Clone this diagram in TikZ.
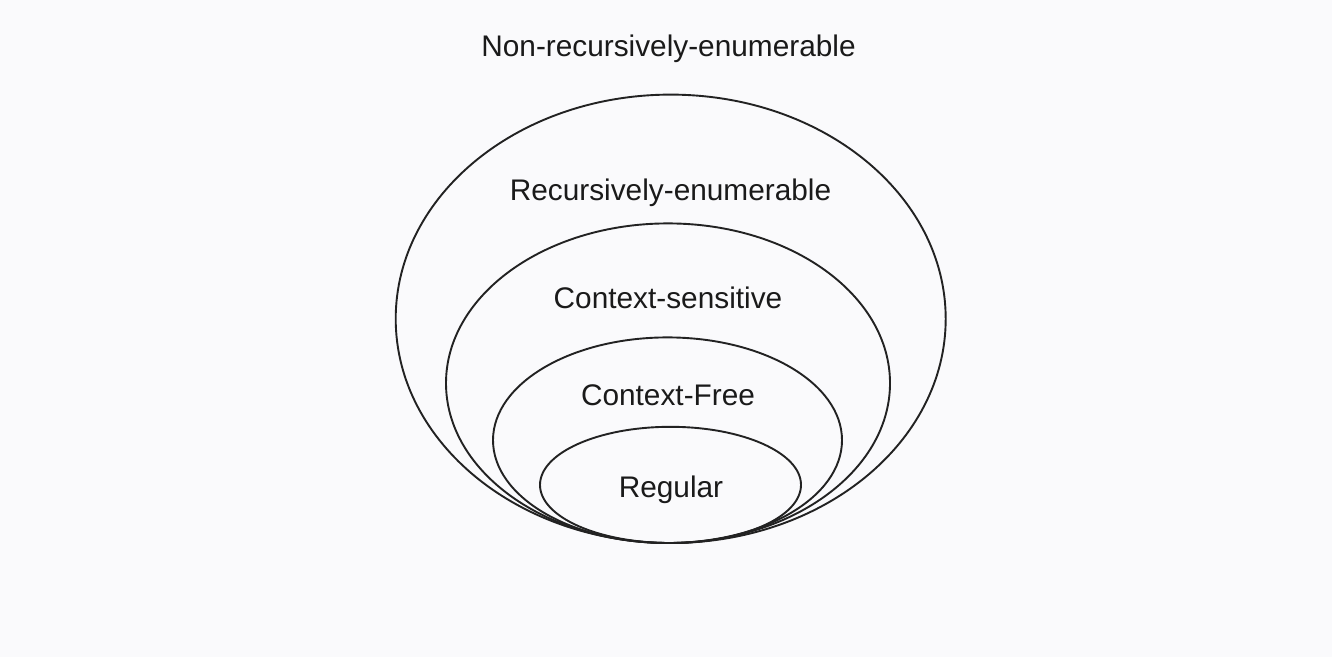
\documentclass[tikz,border=0pt]{standalone}
\usepackage{fontspec}
\setmainfont{Liberation Sans}
\definecolor{bgpaper}{HTML}{FAFAFC}
\definecolor{inkline}{HTML}{222222}
\definecolor{inktext}{HTML}{1A1A1A}
\begin{document}
\begin{tikzpicture}[x=1pt,y=-1pt,
  setring/.style={draw=inkline,line width=1.9pt},
  setlabel/.style={anchor=base,inner sep=0pt,text=inktext,font=\fontsize{29.8}{36}\selectfont}]
  % page
  \fill[bgpaper] (0,0) rectangle (1332,657);
  \useasboundingbox (0,0) rectangle (1332,657);
  % nested language classes, all touching at the bottom
  \draw[setring] (670.7,318.8) ellipse [x radius=275, y radius=224.2];
  \draw[setring] (668,383.2) ellipse [x radius=222, y radius=159.8];
  \draw[setring] (667.5,440.2) ellipse [x radius=174.5, y radius=102.8];
  \draw[setring] (670.5,484.9) ellipse [x radius=130.5, y radius=58.1];
  % labels
  \node[setlabel] (nre) at (668.5,56) {Non-recursively-enumerable};
  \node[setlabel] (re)  at (670.5,200) {Recursively-enumerable};
  \node[setlabel] (cs)  at (668,308) {Context-sensitive};
  \node[setlabel] (cf)  at (668,405.5) {Context-Free};
  \node[setlabel] (reg) at (671,497) {Regular};
\end{tikzpicture}
\end{document}
